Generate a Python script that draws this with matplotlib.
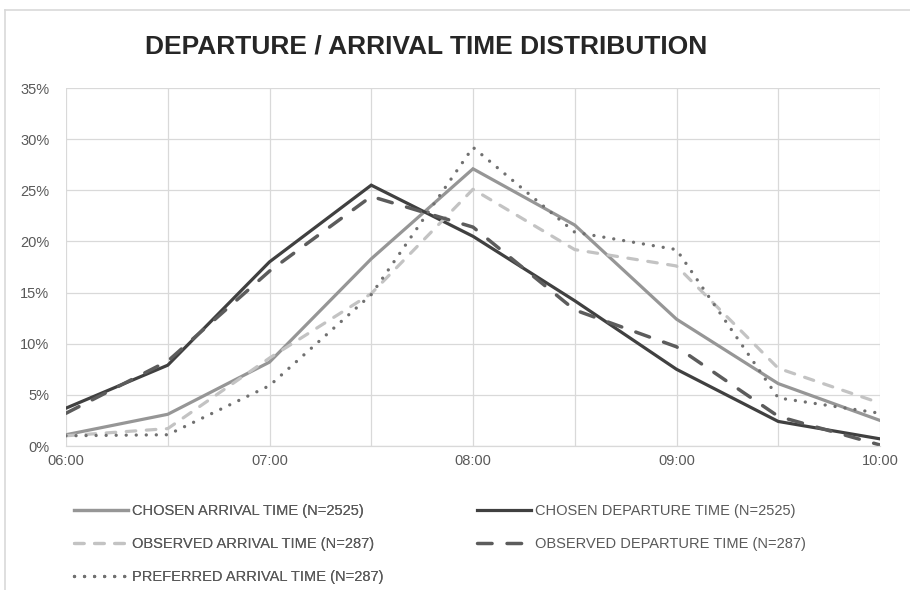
import numpy as np
import matplotlib
matplotlib.use("Agg")
import matplotlib.pyplot as plt
from matplotlib.lines import Line2D

plt.rcParams['font.family'] = ['Liberation Sans', 'DejaVu Sans']

# ------------------------------------------------------------------
#   DATA  (share of trips, %)
# ------------------------------------------------------------------
times = ["06:00", "06:30", "07:00", "07:30", "08:00", "08:30", "09:00", "09:30", "10:00"]

chosen_arrival    = [1.1, 3.1, 8.2, 18.3, 27.1, 21.6, 12.4, 6.1, 2.5]
chosen_departure  = [3.7, 7.9, 18.0, 25.5, 20.5, 14.2, 7.5, 2.4, 0.7]
observed_arrival  = [1.0, 1.7, 8.6, 14.9, 25.1, 19.2, 17.6, 7.6, 4.2]
observed_departure = [3.2, 8.3, 17.1, 24.4, 21.4, 13.3, 9.7, 2.9, 0.1]
preferred_arrival = [1.0, 1.1, 5.9, 14.8, 29.2, 20.9, 19.2, 4.7, 3.2]

labels = ["CHOSEN ARRIVAL TIME (N=2525)",
          "CHOSEN DEPARTURE TIME (N=2525)",
          "OBSERVED ARRIVAL TIME (N=287)",
          "OBSERVED DEPARTURE TIME (N=287)",
          "PREFERRED ARRIVAL TIME (N=287)"]

# ------------------------------------------------------------------
#   PLOT
# ------------------------------------------------------------------
fig = plt.figure(figsize=(9.1, 5.9), dpi=100)
ax = fig.add_axes([66/910, 1-446/590, (880-66)/910, (446-88)/590])

x = np.arange(len(times))
txt = '#595959'
grid = '#d9d9d9'

l_ca, = ax.plot(x, chosen_arrival, color='#969696', lw=2.3, solid_joinstyle='miter')
l_cd, = ax.plot(x, chosen_departure, color='#404040', lw=2.3, solid_joinstyle='miter')
l_oa, = ax.plot(x, observed_arrival, color='#c3c3c3', lw=2.3, dashes=(3, 3.3),
                dash_capstyle='round')
l_od, = ax.plot(x, observed_departure, color='#5c5c5c', lw=2.5, dashes=(4.2, 4.3),
                dash_capstyle='round')
l_pa, = ax.plot(x, preferred_arrival, color='#707070', lw=2.4, dashes=(0.01, 3.0),
                dash_capstyle='round')

ax.set_xlim(0, len(times)-1)
ax.set_ylim(0, 35)
ax.set_yticks(np.arange(0, 36, 5))
ax.set_yticklabels(["%d%%" % v for v in np.arange(0, 36, 5)])
ax.set_xticks(x)
ax.set_xticklabels([t if i % 2 == 0 else "" for i, t in enumerate(times)])
ax.tick_params(length=0, labelsize=10.5, colors=txt, pad=6)
ax.tick_params(axis='y', pad=12)
ax.grid(True, color=grid, lw=0.9)
ax.set_axisbelow(True)
for s in ['top', 'right', 'left']:
    ax.spines[s].set_visible(False)
ax.spines['bottom'].set_color(grid)
ax.spines['bottom'].set_linewidth(0.9)

fig.text(426/910, 1-46/590, "DEPARTURE / ARRIVAL TIME DISTRIBUTION", ha='center', va='center',
         fontsize=19, fontweight='bold', color='#262626')

# chart border (top and left edge)
fig.add_artist(Line2D([5/910, 1], [1-10/590, 1-10/590], color=grid, lw=1.2))
fig.add_artist(Line2D([5/910, 5/910], [0, 1-10/590], color=grid, lw=1.2))

leg_opts = dict(loc='upper left', frameon=False, fontsize=10.5, labelcolor=txt,
                handlelength=3.65, handletextpad=0.3, labelspacing=1.3, borderpad=0)
leg1 = fig.legend([l_ca, l_oa, l_pa], [labels[0], labels[2], labels[4]],
                  bbox_to_anchor=(67/910, 1-497/590), **leg_opts)
leg2 = fig.legend([l_cd, l_od], [labels[1], labels[3]],
                  bbox_to_anchor=(470/910, 1-497/590), **leg_opts)
fig.add_artist(leg1)

plt.savefig("out.png", dpi=100)
